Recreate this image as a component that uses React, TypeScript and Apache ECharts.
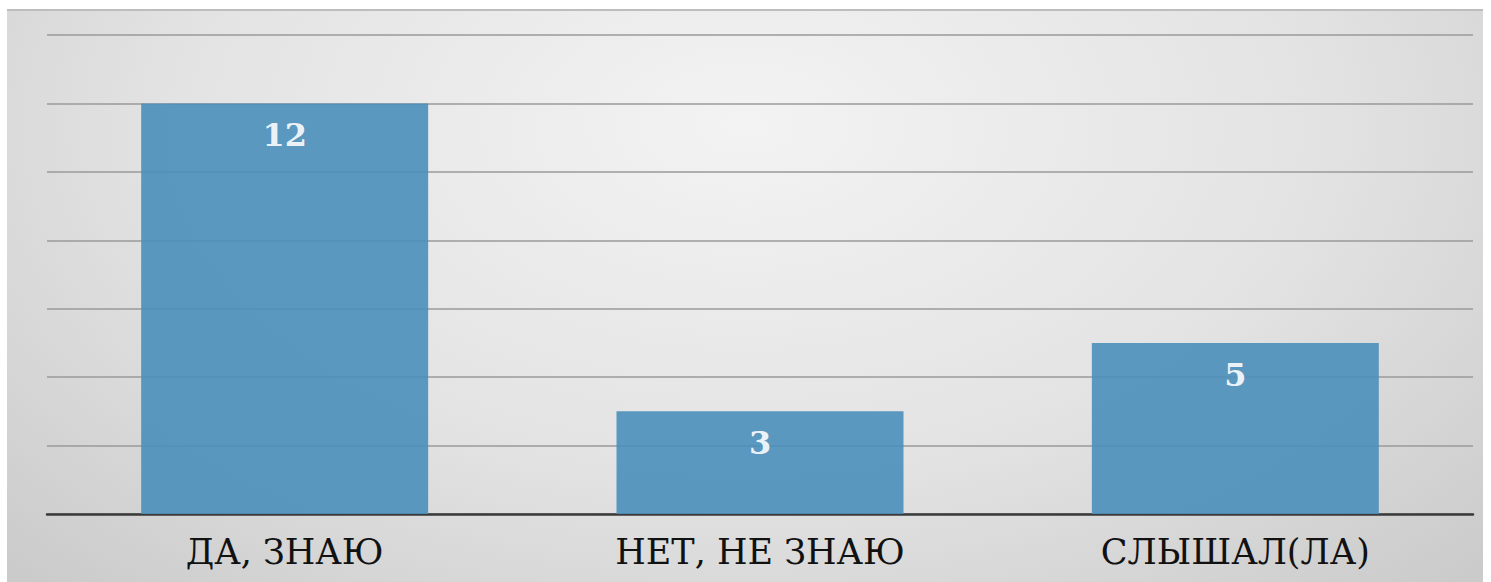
import React, { useEffect, useRef } from "react";
import * as echarts from "echarts";

const categories = ["ДА, ЗНАЮ", "НЕТ, НЕ ЗНАЮ", "СЛЫШАЛ(ЛА)"];
const values = [12, 3, 5];
const yMin = 0;
const yMax = 14;
const yInterval = 2;

export default function App() {
  const ref = useRef<HTMLDivElement>(null);
  useEffect(() => {
    if (!ref.current) return;
    const chart = echarts.init(ref.current, null, { renderer: "svg" });
    chart.setOption({
      animation: false,
      grid: { left: 47, right: 18, top: 35, bottom: 68, containLabel: false },
      xAxis: {
        type: "category",
        data: categories,
        axisLine: { show: true, lineStyle: { color: "#3a3a3a", width: 2.5 } },
        axisTick: { show: false },
        axisLabel: {
          color: "#111",
          fontFamily: "'DejaVu Serif', serif",
          fontSize: 35,
          margin: 20,
        },
      },
      yAxis: {
        type: "value",
        min: yMin,
        max: yMax,
        interval: yInterval,
        axisLabel: { show: false },
        axisLine: { show: false },
        axisTick: { show: false },
        splitLine: { lineStyle: { color: "#9a9a9a", width: 1.5 } },
      },
      series: [
        {
          type: "bar",
          data: values,
          barWidth: 287,
          itemStyle: { color: "#4b8fbb", opacity: 0.9 },
          label: {
            show: true,
            position: "insideTop",
            distance: 16,
            color: "#ffffff",
            fontFamily: "'DejaVu Serif', serif",
            fontWeight: "bold",
            fontSize: 32,
          },
        },
      ],
    });
    return () => chart.dispose();
  }, []);
  return (
    <div style={{ position: "absolute", left: 0, top: 0, width: 1491, height: 582, background: "#ffffff" }}>
      <div
        style={{
          position: "absolute",
          left: 7,
          top: 9,
          width: 1476,
          height: 573,
          borderTop: "2px solid #bdbdbd",
          boxSizing: "border-box",
          background: "radial-gradient(ellipse 70% 110% at 50% 20%, #f3f3f3 0%, #e3e3e3 55%, #cbcbcb 100%)",
        }}
      />
      <div ref={ref} style={{ position: "absolute", left: 0, top: 0, width: 1491, height: 582 }} />
    </div>
  );
}
